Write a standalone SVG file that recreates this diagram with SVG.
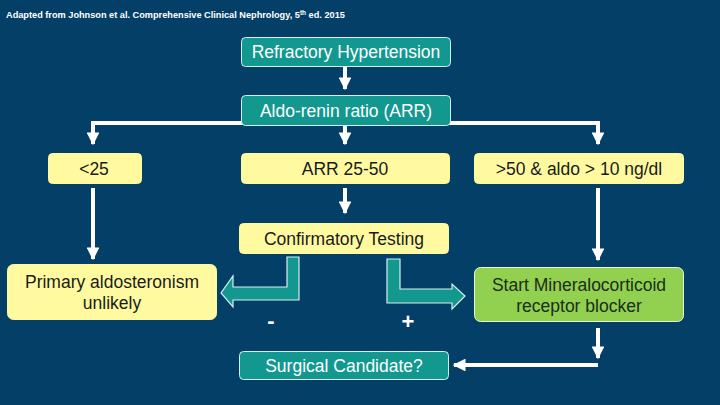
<svg xmlns="http://www.w3.org/2000/svg" width="720" height="405" viewBox="0 0 720 405">
<defs>
<marker id="ah" viewBox="0 0 10 10" refX="9" refY="5" markerWidth="3.4" markerHeight="3.2" markerUnits="strokeWidth" orient="auto">
<path d="M0,0 L10,5 L0,10 z" fill="#ffffff"/>
</marker>
<style>
.t{font-family:"Liberation Sans",Arial,sans-serif;font-size:17.5px;text-anchor:middle}
.teal{fill:#12988f;stroke:#d8eeee;stroke-width:1}
.yel{fill:#fffa9f;stroke:#fffa9f}
.grn{fill:#92d050;stroke:#e8f5d8;stroke-width:1}
.w{fill:#ffffff}
.k{fill:#1a1a1a}
.c{fill:none;stroke:#ffffff;stroke-width:4}
.blk{fill:#12988f;stroke:#d8eeee;stroke-width:1.2}
</style>
</defs>
<rect width="720" height="405" fill="#043f67"/>
<text x="6" y="18" font-family="'Liberation Sans',Arial,sans-serif" font-size="9.2" font-weight="bold" fill="#ffffff">Adapted from Johnson et al. Comprehensive Clinical Nephrology, 5<tspan font-size="6.5" dy="-3.5">th</tspan><tspan dy="3.5"> ed. 2015</tspan></text>

<g id="connectors">
<path class="c" d="M345,66 V89" marker-end="url(#ah)"/>
<path class="c" d="M93,123 H598"/>
<path class="c" d="M93,121 V144" marker-end="url(#ah)"/>
<path class="c" d="M598,121 V144" marker-end="url(#ah)"/>
<path class="c" d="M345,125 V144" marker-end="url(#ah)"/>
<path class="c" d="M345,188 V213" marker-end="url(#ah)"/>
<path class="c" d="M93,188 V259" marker-end="url(#ah)"/>
<path class="c" d="M598,188 V260" marker-end="url(#ah)"/>
<path class="c" d="M598,328 V358" marker-end="url(#ah)"/>
<path class="c" d="M598,365 H454" marker-end="url(#ah)"/>
<path class="blk" d="M287,257 H299 V300 H233 V307 L221,293 L233,276 V287 H287 Z"/>
<path class="blk" d="M387,259 H400 V289 H452 V284 L465,296 L452,309 V303 H387 Z"/>
<text x="271" y="328" font-family="'Liberation Sans',Arial,sans-serif" font-size="22" font-weight="bold" fill="#ffffff" text-anchor="middle">-</text>
<text x="408" y="329" font-family="'Liberation Sans',Arial,sans-serif" font-size="22" font-weight="bold" fill="#ffffff" text-anchor="middle">+</text>
</g>

<g id="refractory">
<rect class="teal" x="241.5" y="37.5" width="209" height="29" rx="4"/>
<text class="t w" x="346" y="58">Refractory Hypertension</text>
</g>
<g id="arr">
<rect class="teal" x="241.5" y="95.5" width="209" height="30" rx="4"/>
<text class="t w" x="346" y="117">Aldo-renin ratio (ARR)</text>
</g>
<g id="lt25">
<rect class="yel" x="48.5" y="153.5" width="93" height="30" rx="4"/>
<text class="t k" x="94" y="175">&lt;25</text>
</g>
<g id="arr2550">
<rect class="yel" x="241.5" y="153.5" width="208" height="30" rx="4"/>
<text class="t k" x="345" y="175">ARR 25-50</text>
</g>
<g id="gt50">
<rect class="yel" x="474.5" y="153.5" width="209" height="30" rx="4"/>
<text class="t k" x="579" y="175">&gt;50 &amp; aldo &gt; 10 ng/dl</text>
</g>
<g id="confirm">
<rect class="yel" x="239.5" y="223.5" width="209" height="30" rx="4"/>
<text class="t k" x="344" y="245">Confirmatory Testing</text>
</g>
<g id="primary">
<rect class="yel" x="7.5" y="264.5" width="209" height="55" rx="6"/>
<text class="t k" x="112" y="288">Primary aldosteronism</text>
<text class="t k" x="112" y="309">unlikely</text>
</g>
<g id="start">
<rect class="grn" x="474.5" y="267.5" width="209" height="54" rx="6"/>
<text class="t" x="579" y="291" fill="#1a2e18">Start Mineralocorticoid</text>
<text class="t" x="579" y="312" fill="#1a2e18">receptor blocker</text>
</g>
<g id="surgical">
<rect class="teal" x="239.5" y="351.5" width="209" height="28" rx="4"/>
<text class="t w" x="344" y="372">Surgical Candidate?</text>
</g>
</svg>
